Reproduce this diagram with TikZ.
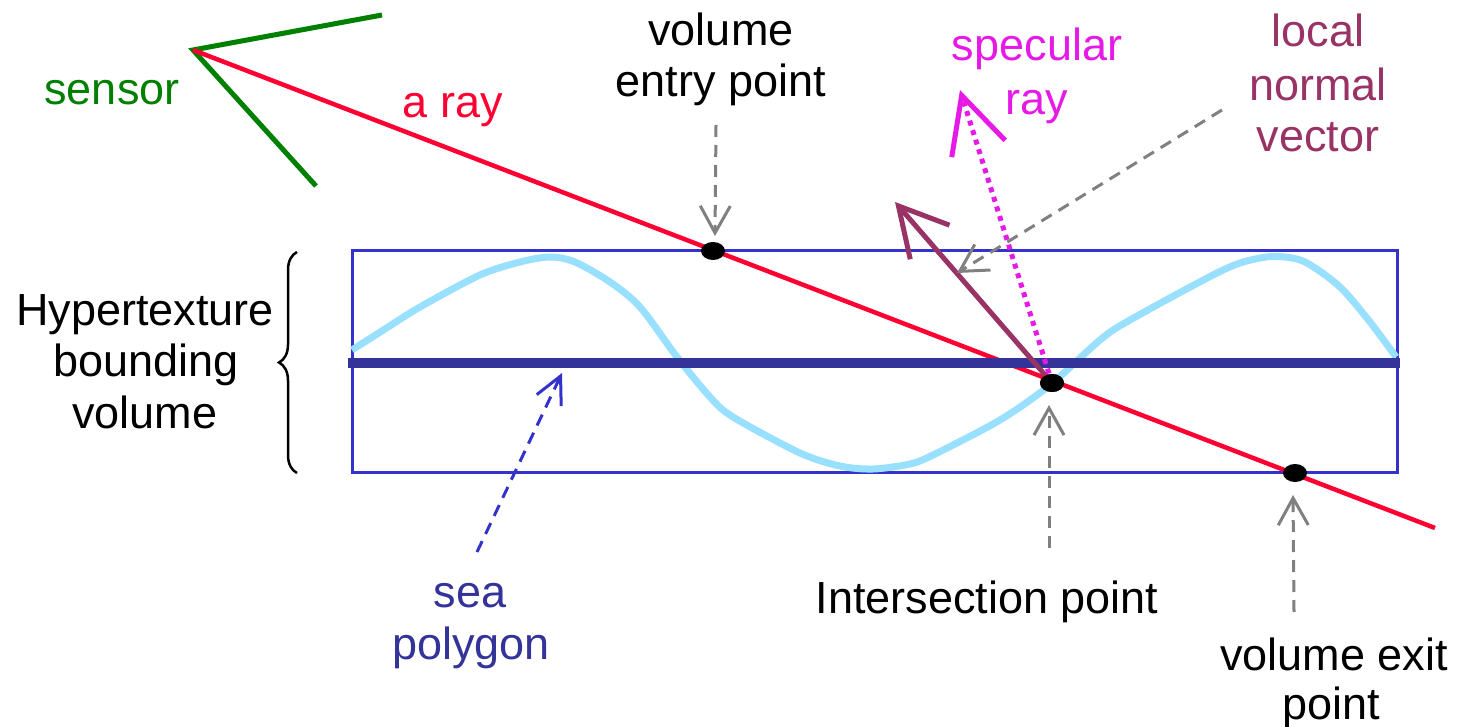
\documentclass[tikz,border=0pt]{standalone}
\usepackage{fontspec}
\setmainfont{Liberation Sans}
\usetikzlibrary{arrows.meta,decorations.pathreplacing,shapes.geometric}
\definecolor{rayred}{RGB}{255,0,51}
\definecolor{sensgreen}{RGB}{0,128,0}
\definecolor{boxblue}{RGB}{51,51,204}
\definecolor{seablue}{RGB}{51,51,153}
\definecolor{wavec}{RGB}{153,224,255}
\definecolor{normalc}{RGB}{153,51,102}
\definecolor{specc}{RGB}{230,25,230}
\definecolor{labelgray}{RGB}{128,128,128}
\begin{document}
\begin{tikzpicture}[x=1pt,y=-1pt,
  lbl/.style={anchor=base,inner sep=0pt,font=\fontsize{45}{52}\selectfont},
  pointer/.style={draw=labelgray,line width=3pt,dash pattern=on 12pt off 8pt,
    -{Straight Barb[length=27pt,width=30pt]}},
  dotnode/.style={ellipse,fill=black,minimum width=24pt,minimum height=18pt,inner sep=0pt}]
\path[use as bounding box,fill=white] (0,0) rectangle (1458,727);

% coordinates
\coordinate (S) at (193,50);
\coordinate (S1) at (382,15);
\coordinate (S2) at (316,186);
\coordinate (R) at (1435,528);
\coordinate (BL) at (352,472);
\coordinate (TR) at (1397,251);
\coordinate (SeaL) at (348,363);
\coordinate (SeaR) at (1400,363);

% bounding volume box
\draw[boxblue,line width=3pt] (BL) rectangle (TR);
% wave
\draw[wavec,line width=7pt] plot[smooth,tension=0.5] coordinates {
 (352,350) (385,329) (420,307) (480,275) (520,262) (550,257) (575,262)
 (610,282) (640,307) (677,357) (710,397) (733,417) (800,453) (840,466)
 (873,469) (910,464) (933,455) (1000,420) (1050,385) (1100,340) (1130,320)
 (1223,270) (1260,258) (1285,257) (1307,263) (1340,287) (1370,322) (1396,357)};

% sensor and ray
\draw[sensgreen,line width=5pt] (S1) -- (S) -- (S2);
\draw[rayred,line width=4.5pt] (S) -- (R);

% sea polygon
\draw[seablue,line width=10pt] (SeaL) -- (SeaR);

% points
\node[dotnode] (entry) at (713,251) {};
\node[dotnode] (isect) at (1052,383) {};
\node[dotnode] (exit) at (1295,473) {};

% normal and specular
\coordinate (Ntip) at (895,202);
\coordinate (Stip) at (960,90);
\draw[normalc,line width=5pt,-{Straight Barb[length=48pt,width=52pt]}] (isect.center) -- (Ntip);
\draw[specc,line width=5pt,dash pattern=on 5pt off 5pt,-{Straight Barb[length=56pt,width=56pt]}] (isect.center) -- (Stip);
\node[dotnode] at (isect) {};

% pointers
\coordinate (eA) at (716,125);
\coordinate (eB) at (715,236);
\coordinate (iA) at (1049,548);
\coordinate (iB) at (1049,405);
\coordinate (xA) at (1294,612);
\coordinate (xB) at (1293,495);
\coordinate (nA) at (1222,110);
\coordinate (nB) at (957,273);
\coordinate (pA) at (477,552);
\coordinate (pB) at (562,373);
\draw[pointer] (eA) -- (eB);
\draw[pointer] (iA) -- (iB);
\draw[pointer] (xA) -- (xB);
\draw[pointer] (nA) -- (nB);
\draw[pointer,draw=boxblue,-{Straight Barb[length=27pt,width=27pt]}] (pA) -- (pB);

% brace
\coordinate (brB) at (297,473);
\coordinate (brT) at (297,252);
\draw[decorate,decoration={brace,amplitude=18pt},line width=2.5pt] (brB) -- (brT);

% labels
\node[lbl,sensgreen] (sensor) at (112,105) {sensor};
\node[lbl,rayred] (aray) at (453,118) {a ray};
\node[lbl] (ve1) at (721,46) {volume};
\node[lbl] (ve2) at (721,97) {entry point};
\node[lbl,specc] (sp1) at (1037,61) {specular};
\node[lbl,specc] (sp2) at (1037,115) {ray};
\node[lbl,normalc] (ln1) at (1318,47) {local};
\node[lbl,normalc] (ln2) at (1318,101) {normal};
\node[lbl,normalc] (ln3) at (1318,152) {vector};
\node[lbl] (hb1) at (145,325) {Hypertexture};
\node[lbl] (hb2) at (146,376) {bounding};
\node[lbl] (hb3) at (145,428) {volume};
\node[lbl,seablue] (sea1) at (470,607) {sea};
\node[lbl,seablue] (sea2) at (471,659) {polygon};
\node[lbl] (ip) at (987,613) {Intersection point};
\node[lbl] (vx1) at (1334,670) {volume exit};
\node[lbl] (vx2) at (1331,719) {point};
\end{tikzpicture}
\end{document}
